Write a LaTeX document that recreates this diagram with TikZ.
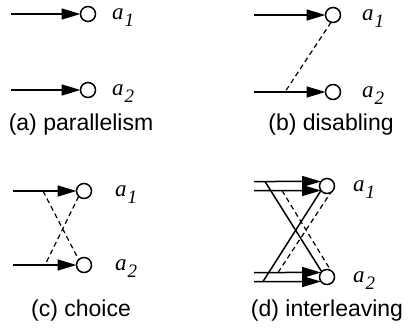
\documentclass[tikz,border=0pt]{standalone}
\usepackage{fontspec}
\setmainfont{Liberation Serif}
\newfontfamily\capfont{Liberation Sans}
\usetikzlibrary{arrows.meta}
\begin{document}
\begin{tikzpicture}[x=1pt,y=-1pt,
  arr/.style={line width=1.5pt,-{Triangle[length=19pt,width=11pt]}},
  solidln/.style={line width=1.5pt},
  port/.style={circle,draw,line width=1.5pt,minimum size=15pt,inner sep=0pt,outer sep=0pt},
  dsh/.style={line width=1.2pt,dash pattern=on 5pt off 3.5pt},
  lbl/.style={font=\fontsize{23}{23}\selectfont\itshape,anchor=base west,inner sep=0pt},
  captxt/.style={font=\capfont\fontsize{23}{23}\selectfont,inner sep=0pt}]
\useasboundingbox (0,0) rectangle (411,332);
\newcommand{\sub}[1]{\hspace{1pt}\raisebox{-7.5pt}{\fontsize{19}{19}\selectfont #1}}

% (a) parallelism
\node[port] (pa1) at (88,14) {};
\node[port] (pa2) at (88,90) {};
\coordinate (sa1) at (11,14);
\coordinate (sa2) at (11,90);
\draw[arr] (sa1) -- (pa1.west);
\draw[arr] (sa2) -- (pa2.west);
\node[lbl] (la1) at (112,19) {a\sub{1}};
\node[lbl] (la2) at (112,95) {a\sub{2}};
\node[captxt] (capa) at (81,125) {(a) parallelism};

% (b) disabling
\node[port] (pb1) at (333,15) {};
\node[port] (pb2) at (333,92) {};
\coordinate (sb1) at (254,15);
\coordinate (sb2) at (254,92);
\coordinate (db) at (285,92);
\draw[arr] (sb1) -- (pb1.west);
\draw[arr] (sb2) -- (pb2.west);
\draw[dsh] (pb1.255) -- (db);
\node[lbl] (lb1) at (362,20) {a\sub{1}};
\node[lbl] (lb2) at (362,97) {a\sub{2}};
\node[captxt] (capb) at (331,125) {(b) disabling};

% (c) choice
\node[port] (pc1) at (84,191) {};
\node[port] (pc2) at (84,265) {};
\coordinate (sc1) at (13,191);
\coordinate (sc2) at (13,265);
\coordinate (dc1) at (43,191);
\coordinate (dc2) at (45,265);
\draw[arr] (sc1) -- (pc1.west);
\draw[arr] (sc2) -- (pc2.west);
\draw[dsh] (dc1) -- (pc2.135);
\draw[dsh] (pc1.225) -- (dc2);
\node[lbl] (lc1) at (115,196) {a\sub{1}};
\node[lbl] (lc2) at (115,270) {a\sub{2}};
\node[captxt] (capc) at (81,311) {(c) choice};

% (d) interleaving
\node[port] (pd1) at (327,186) {};
\node[port] (pd2) at (327,277) {};
\coordinate (sd1a) at (254,181.5);
\coordinate (sd1b) at (254,190.5);
\coordinate (sd2a) at (254,272.5);
\coordinate (sd2b) at (254,281.5);
\draw[arr] (sd1a) -- (pd1.143);
\draw[arr] (sd1b) -- (pd1.217);
\draw[arr] (sd2a) -- (pd2.143);
\draw[arr] (sd2b) -- (pd2.217);
\coordinate (xd1) at (265,181.5);
\coordinate (xd2) at (263,281.5);
\coordinate (yd1) at (282,190.5);
\coordinate (yd2) at (278,272.5);
\draw[solidln] (xd1) -- (pd2.135);
\draw[solidln] (xd2) -- (pd1.217);
\draw[dsh] (yd1) -- (pd2.60);
\draw[dsh] (yd2) -- (pd1.300);
\node[lbl] (ld1) at (353,191) {a\sub{1}};
\node[lbl] (ld2) at (353,282) {a\sub{2}};
\node[captxt] (capd) at (327,311) {(d) interleaving};
\end{tikzpicture}
\end{document}
